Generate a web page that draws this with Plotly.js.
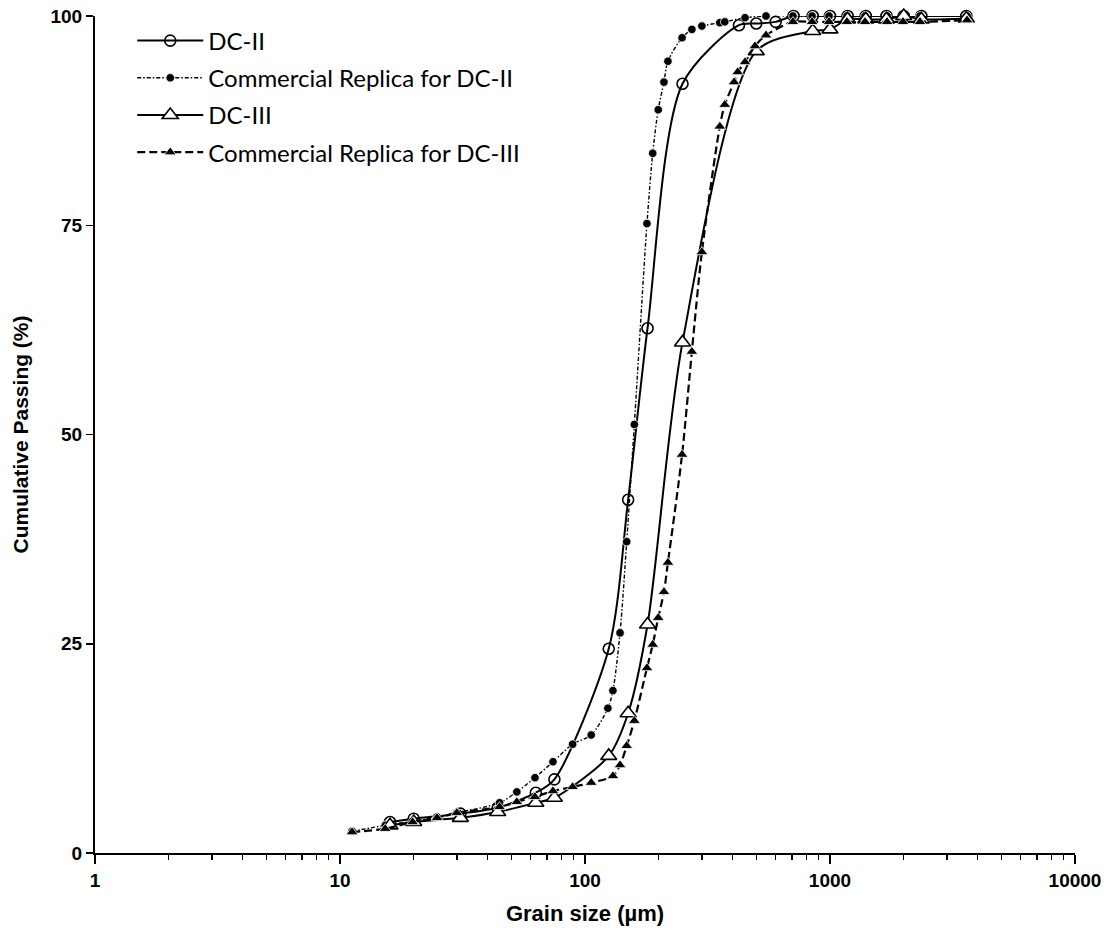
<!DOCTYPE html>
<html>
<head>
<meta charset="utf-8">
<script src="https://cdn.plot.ly/plotly-3.0.1.min.js"></script>
<style>html,body{margin:0;padding:0;background:#fff;}#chart{width:1115px;height:945px;}</style>
</head>
<body>
<div id="chart"></div>
<script>
// Series names
const seriesNames = ["DC-II", "Commercial Replica for DC-II", "DC-III", "Commercial Replica for DC-III"];

// DC-II (open circles)
const dc2X = [16, 20, 31, 44, 63, 75, 125, 150, 180, 250, 425, 500, 600, 710, 850, 1000, 1180, 1400, 1700, 2000, 2360, 3600];
const dc2Y = [3.7, 4.1, 4.7, 5.4, 7.2, 8.8, 24.4, 42.2, 62.7, 91.9, 98.9, 99.1, 99.3, 100, 100, 100, 100, 100, 100, 100, 100, 100];

// Commercial Replica for DC-II (filled circles)
const rc2X = [11.2, 15.3, 19.8, 24.9, 30, 44.8, 52.7, 62.5, 74, 89, 106, 124, 130, 139, 148, 159, 179, 189, 199, 210, 218, 249, 273, 300, 355, 372, 450, 548, 706, 845, 991, 1173, 1390, 1710, 1986, 2330, 3625];
const rc2Y = [2.6, 3.3, 3.8, 4.3, 4.8, 6.0, 7.3, 9.0, 10.9, 13.0, 14.1, 17.3, 19.4, 26.3, 37.2, 51.2, 75.2, 83.6, 88.8, 92.1, 94.6, 97.4, 98.4, 98.8, 99.2, 99.3, 99.8, 100, 100, 100, 100, 100, 100, 100, 100, 100, 100];

// DC-III (open triangles)
const dc3X = [16, 20, 31, 44, 63, 75, 125, 150, 180, 250, 500, 850, 1000, 1180, 1400, 1700, 2000, 2360, 3600];
const dc3Y = [3.3, 3.7, 4.2, 4.9, 6.0, 6.6, 11.6, 16.7, 27.3, 61.0, 95.8, 98.2, 98.4, 99.6, 99.6, 99.6, 100, 99.6, 99.7];

// Commercial Replica for DC-III (filled triangles)
const rc3X = [11.2, 15.3, 19.8, 24.9, 30, 44.8, 52.7, 62.5, 74, 89, 106, 130, 139, 148, 159, 179, 189, 199, 210, 218, 249, 273, 300, 355, 372, 406, 420, 450, 494, 548, 706, 845, 991, 1173, 1390, 1710, 1986, 2330, 3625];
const rc3Y = [2.5, 2.9, 3.7, 4.2, 4.8, 5.5, 6.1, 6.7, 7.4, 7.9, 8.4, 9.2, 10.5, 12.8, 15.8, 22.1, 24.9, 28.1, 31.2, 34.7, 47.6, 59.9, 71.8, 86.8, 89.4, 92.1, 93.3, 94.5, 96.4, 97.7, 99.3, 99.3, 99.3, 99.3, 99.3, 99.3, 99.3, 99.3, 99.5];

// Axis ticks
const xTickVals = [1, 10, 100, 1000, 10000];
const xTickText = ["1", "10", "100", "1000", "10000"];
const yTickVals = [0, 25, 50, 75, 100];

const traces = [
  {
    x: dc2X, y: dc2Y, name: seriesNames[0], type: "scatter", mode: "lines+markers",
    line: {color: "#000", width: 2, shape: "spline", smoothing: 0.8},
    marker: {symbol: "circle-open", size: 11, color: "#000", line: {width: 1.6, color: "#000"}},
    legendgroup: "a", cliponaxis: false
  },
  {
    x: rc2X, y: rc2Y, name: seriesNames[1], type: "scatter", mode: "lines+markers",
    line: {color: "#000", width: 1.4, dash: "4px,2px,1.5px,2px", shape: "spline", smoothing: 0.8},
    marker: {symbol: "circle", size: 8.5, color: "#000", line: {width: 0.8, color: "#fff"}},
    legendgroup: "b", cliponaxis: false
  },
  {
    x: dc3X, y: dc3Y, name: seriesNames[2], type: "scatter", mode: "lines+markers",
    line: {color: "#000", width: 2, shape: "spline", smoothing: 0.8},
    marker: {symbol: "triangle-up", size: 14, color: "#fff", line: {width: 1.6, color: "#000"}},
    legendgroup: "c", cliponaxis: false
  },
  {
    x: rc3X, y: rc3Y, name: seriesNames[3], type: "scatter", mode: "lines+markers",
    line: {color: "#000", width: 2.2, dash: "8px,4px", shape: "spline", smoothing: 0.8},
    marker: {symbol: "triangle-up", size: 10.5, color: "#000", line: {width: 0.8, color: "#fff"}},
    legendgroup: "d", cliponaxis: false
  }
];

const layout = {
  width: 1115, height: 945,
  margin: {l: 95, r: 40, t: 16, b: 92},
  paper_bgcolor: "#fff", plot_bgcolor: "#fff",
  showlegend: true,
  legend: {
    x: 0.038, y: 0.997, xanchor: "left", yanchor: "top",
    font: {family: "Lato, 'Open Sans', sans-serif", size: 24, color: "#000"},
    bgcolor: "rgba(255,255,255,0)", traceorder: "grouped", tracegroupgap: 3,
    itemwidth: 66
  },
  xaxis: {
    type: "log", range: [0, 4],
    tickvals: xTickVals, ticktext: xTickText,
    ticks: "outside", ticklen: 9, tickwidth: 1.5, tickcolor: "#000",
    minor: {ticks: "outside", ticklen: 5, tickwidth: 1.3, tickcolor: "#000", dtick: "D1", showgrid: false},
    showline: true, linecolor: "#000", linewidth: 2,
    showgrid: false, zeroline: false,
    tickfont: {family: "'Liberation Sans', Arial, sans-serif", size: 19, color: "#000", weight: "bold"},
    title: {text: "<b>Grain size (µm)</b>", font: {family: "'Liberation Sans', Arial, sans-serif", size: 22, color: "#000"}, standoff: 16}
  },
  yaxis: {
    range: [0, 100], tickvals: yTickVals,
    ticks: "outside", ticklen: 7, tickwidth: 1.5, tickcolor: "#000",
    showline: true, linecolor: "#000", linewidth: 2,
    showgrid: false, zeroline: false,
    tickfont: {family: "'Liberation Sans', Arial, sans-serif", size: 19, color: "#000", weight: "bold"},
    title: {text: "<b>Cumulative Passing (%)</b>", font: {family: "'Liberation Sans', Arial, sans-serif", size: 21, color: "#000"}, standoff: 16}
  }
};

Plotly.newPlot("chart", traces, layout, {displayModeBar: false, staticPlot: true});
</script>
</body>
</html>
